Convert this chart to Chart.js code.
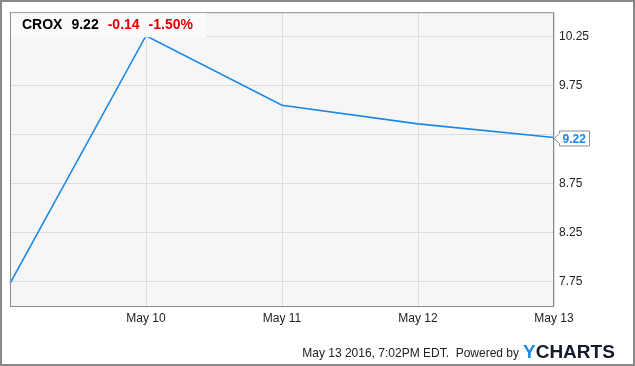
<!DOCTYPE html>
<html>
<head>
<meta charset="utf-8">
<script src="https://cdn.jsdelivr.net/npm/chart.js@4/dist/chart.umd.min.js"></script>
<style>
  html, body { margin: 0; padding: 0; background: #fff; }
  canvas { display: block; }
</style>
</head>
<body>
<canvas id="price-chart" width="635" height="366"></canvas>
<script>
// data
const dates = ['May 9', 'May 10', 'May 11', 'May 12', 'May 13'];
const prices = [7.73, 10.26, 9.55, 9.36, 9.22];
const yTicks = [7.75, 8.25, 8.75, 9.25, 9.75, 10.25];
const ticker = 'CROX';
const lastPrice = '9.22';
const change = '-0.14';
const changePct = '-1.50%';
const footerText = 'May 13 2016, 7:02PM EDT.  Powered by';

const FONT = '"Liberation Sans", Arial, sans-serif';
const LINE = '#1a87e6';
const last = prices[prices.length - 1];

// background, plot frame, header, last price flag, footer
const decorations = {
    id: 'decorations',
    beforeDraw(chart) {
        const ctx = chart.ctx;
        const a = chart.chartArea;
        ctx.save();
        ctx.fillStyle = '#f6f6f6';
        ctx.fillRect(a.left, a.top, a.right - a.left, a.bottom - a.top);
        ctx.restore();
    },
    afterDraw(chart) {
        const ctx = chart.ctx;
        const a = chart.chartArea;
        const y = chart.scales.y;
        ctx.save();

        // plot frame
        ctx.strokeStyle = '#8c8c8c';
        ctx.lineWidth = 1;
        ctx.strokeRect(a.left + 0.5, a.top + 0.5, a.right - a.left - 1, a.bottom - a.top);

        // header box
        ctx.fillStyle = '#fafafa';
        ctx.fillRect(a.left + 1, a.top + 1, 195, 24);
        ctx.font = 'bold 14px ' + FONT;
        ctx.textBaseline = 'alphabetic';
        ctx.textAlign = 'left';
        let x = 22;
        ctx.fillStyle = '#000';
        ctx.fillText(ticker, x, 29);
        x += ctx.measureText(ticker).width + 9;
        ctx.fillText(lastPrice, x, 29);
        x += ctx.measureText(lastPrice).width + 9;
        ctx.fillStyle = '#e00000';
        ctx.fillText(change, x, 29);
        x += ctx.measureText(change).width + 9;
        ctx.fillText(changePct, x, 29);

        // last price flag
        const py = Math.round(y.getPixelForValue(last)) + 0.5;
        const bx = a.right + 5.5;
        ctx.beginPath();
        ctx.moveTo(a.right, py);
        ctx.lineTo(bx, py - 5);
        ctx.lineTo(bx, py - 7.5);
        ctx.lineTo(bx + 30, py - 7.5);
        ctx.lineTo(bx + 30, py + 7.5);
        ctx.lineTo(bx, py + 7.5);
        ctx.lineTo(bx, py + 5);
        ctx.closePath();
        ctx.fillStyle = '#fff';
        ctx.fill();
        ctx.strokeStyle = '#8c8c8c';
        ctx.stroke();
        ctx.fillStyle = LINE;
        ctx.font = 'bold 12px ' + FONT;
        ctx.textBaseline = 'middle';
        ctx.fillText(lastPrice, bx + 3, py + 1);

        // footer
        ctx.textBaseline = 'alphabetic';
        ctx.font = '12px ' + FONT;
        ctx.fillStyle = '#222';
        ctx.textAlign = 'right';
        ctx.fillText(footerText, 519, 357);
        ctx.textAlign = 'left';
        ctx.font = 'bold 19px ' + FONT;
        ctx.fillStyle = '#1a8fe3';
        ctx.fillText('Y', 523, 358);
        const yw = ctx.measureText('Y').width;
        ctx.fillStyle = '#161b2b';
        ctx.fillText('CHARTS', 523 + yw, 358);

        // outer frame
        ctx.strokeStyle = '#888';
        ctx.lineWidth = 2;
        ctx.strokeRect(1, 1, chart.width - 2, chart.height - 2);
        ctx.restore();
    }
};

const ctx = document.getElementById('price-chart').getContext('2d');
new Chart(ctx, {
    type: 'line',
    data: {
        labels: dates,
        datasets: [{
            data: prices,
            borderColor: LINE,
            borderWidth: 1.6,
            pointRadius: 0,
            fill: false,
            tension: 0
        }]
    },
    options: {
        responsive: false,
        animation: false,
        layout: { padding: { left: 10, top: 10, right: 0, bottom: 0 } },
        plugins: {
            legend: { display: false },
            tooltip: { enabled: false }
        },
        scales: {
            x: {
                offset: false,
                grid: { color: '#dcdcdc', drawTicks: false },
                border: { display: false },
                ticks: {
                    color: '#222',
                    font: { family: FONT, size: 12 },
                    padding: 5,
                    maxRotation: 0,
                    autoSkip: false,
                    callback: function(value, index) {
                        return index === 0 ? '' : this.getLabelForValue(value);
                    }
                },
                afterFit: function(scale) { scale.height = 60; }
            },
            y: {
                position: 'right',
                min: 7.5,
                max: 10.5,
                grid: { color: '#dcdcdc', drawTicks: false },
                border: { display: false },
                afterBuildTicks: function(scale) {
                    scale.ticks = yTicks.map(v => ({ value: v }));
                },
                ticks: {
                    color: '#222',
                    font: { family: FONT, size: 12 },
                    padding: 5,
                    // the last price flag sits over the nearest tick label
                    callback: v => Math.abs(v - last) < 0.15 ? '' : v.toFixed(2)
                },
                afterFit: function(scale) { scale.width = 81; }
            }
        }
    },
    plugins: [decorations]
});
</script>
</body>
</html>
